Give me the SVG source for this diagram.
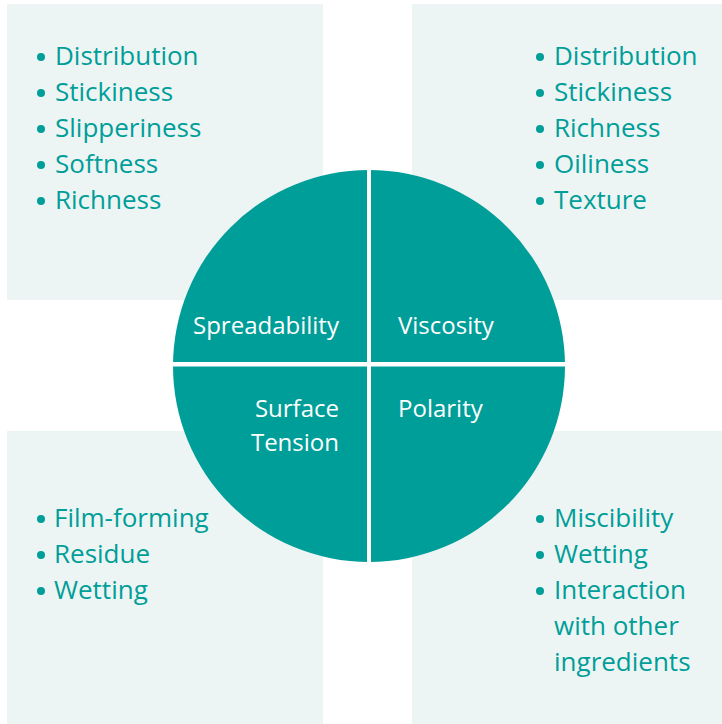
<svg xmlns="http://www.w3.org/2000/svg" width="722" height="724" viewBox="0 0 722 724">
<style>
.box{fill:#EDF5F4}
.q{fill:#009E99}
.li{font-family:"Open Sans","Noto Sans",sans-serif;font-size:26px;fill:#009E99}
.lb{font-family:"Open Sans","Noto Sans",sans-serif;font-size:24px;fill:#FFFFFF}
.dot{fill:#009E99}
</style>
<rect width="722" height="724" fill="#FFFFFF"/>
<g id="box-top-left">
<rect class="box" x="7" y="4" width="316" height="296"/>
<circle class="dot" cx="41" cy="57" r="4"/><text class="li" x="55" y="65">Distribution</text>
<circle class="dot" cx="41" cy="93" r="4"/><text class="li" x="55" y="101">Stickiness</text>
<circle class="dot" cx="41" cy="129" r="4"/><text class="li" x="55" y="137">Slipperiness</text>
<circle class="dot" cx="41" cy="165" r="4"/><text class="li" x="55" y="173">Softness</text>
<circle class="dot" cx="41" cy="201" r="4"/><text class="li" x="55" y="209">Richness</text>
</g>
<g id="box-top-right">
<rect class="box" x="412" y="4" width="310" height="296"/>
<circle class="dot" cx="540" cy="57" r="4"/><text class="li" x="554" y="65">Distribution</text>
<circle class="dot" cx="540" cy="93" r="4"/><text class="li" x="554" y="101">Stickiness</text>
<circle class="dot" cx="540" cy="129" r="4"/><text class="li" x="554" y="137">Richness</text>
<circle class="dot" cx="540" cy="165" r="4"/><text class="li" x="554" y="173">Oiliness</text>
<circle class="dot" cx="540" cy="201" r="4"/><text class="li" x="554" y="209">Texture</text>
</g>
<g id="box-bottom-left">
<rect class="box" x="7" y="431" width="316" height="293"/>
<circle class="dot" cx="41" cy="519" r="4"/><text class="li" x="54" y="527">Film-forming</text>
<circle class="dot" cx="41" cy="555" r="4"/><text class="li" x="54" y="563">Residue</text>
<circle class="dot" cx="41" cy="591" r="4"/><text class="li" x="54" y="599">Wetting</text>
</g>
<g id="box-bottom-right">
<rect class="box" x="412" y="431" width="310" height="293"/>
<circle class="dot" cx="540" cy="519" r="4"/><text class="li" x="554" y="527">Miscibility</text>
<circle class="dot" cx="540" cy="555" r="4"/><text class="li" x="554" y="563">Wetting</text>
<circle class="dot" cx="540" cy="591" r="4"/><text class="li" x="554" y="599">Interaction</text>
<text class="li" x="554" y="635">with other</text>
<text class="li" x="554" y="671">ingredients</text>
</g>
<g id="circle">
<circle class="q" cx="369" cy="366" r="196"/>
<rect x="367" y="165" width="4" height="402" fill="#FFFFFF"/>
<rect x="168" y="362" width="402" height="4.5" fill="#FFFFFF"/>
</g>
<g id="spreadability"><text class="lb" x="193" y="334">Spreadability</text></g>
<g id="viscosity"><text class="lb" x="398" y="334">Viscosity</text></g>
<g id="surface-tension"><text class="lb" x="339" y="417" text-anchor="end">Surface</text><text class="lb" x="339" y="451" text-anchor="end">Tension</text></g>
<g id="polarity"><text class="lb" x="398" y="417">Polarity</text></g>
</svg>
